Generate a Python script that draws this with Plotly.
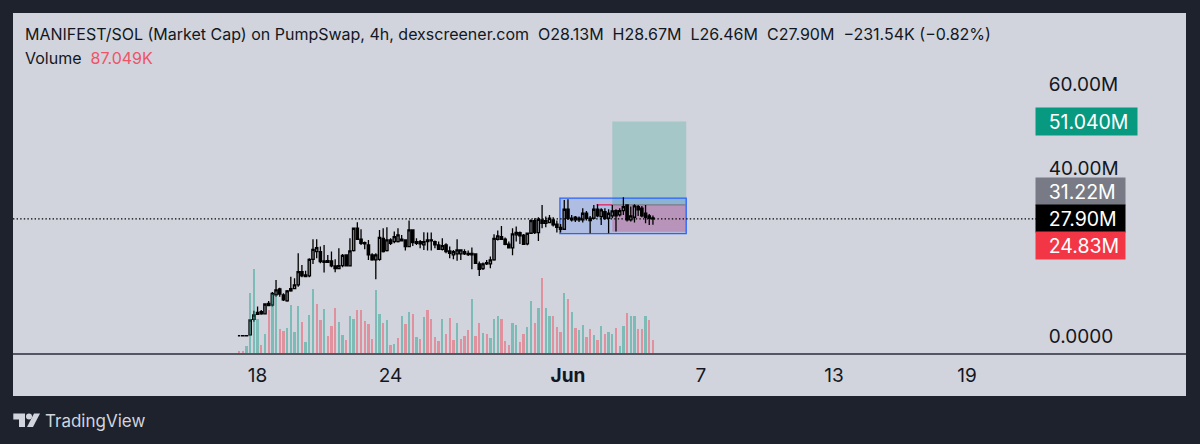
import pandas as pd
import plotly.graph_objects as go

# 4h bars, market cap in millions
bar_start = "2025-05-17 04:00"
opens = [0.05, 0.05, 0.06, 0.24, 3.97, 5.16, 5.80, 5.24, 7.23, 7.38,
         9.77, 11.20, 9.77, 8.34, 10.72, 11.27, 12.15, 15.32, 14.13, 14.29,
         18.26, 20.09, 20.09, 17.55, 17.55, 17.87, 16.67, 16.04, 16.75, 19.29,
         16.67, 20.33, 25.65, 23.03, 21.91, 21.68, 19.29, 18.10, 18.26, 23.26,
         20.33, 22.87, 22.47, 22.47, 23.03, 22.87, 21.28, 25.25, 22.07, 22.47,
         21.68, 22.47, 22.87, 22.47, 21.68, 20.64, 21.68, 20.25, 19.29, 19.53,
         19.53, 20.09, 19.69, 19.29, 19.53, 17.15, 16.04, 17.15, 17.15, 18.10,
         23.03, 23.66, 23.03, 21.84, 20.96, 24.06, 24.61, 23.98, 21.91, 24.46,
         27.47, 24.61, 27.63, 26.84, 27.00, 27.63, 26.60, 25.88, 25.41, 30.17,
         28.03, 27.63, 28.03, 27.63, 29.22, 27.47, 28.03, 30.17, 28.43, 29.62,
         28.03, 28.58, 29.85, 28.82, 29.85, 31.20, 27.63, 28.27, 30.81, 30.41,
         29.22, 28.58, 28.13]
highs = [0.12, 0.12, 0.15, 3.97, 6.03, 6.99, 6.19, 7.78, 8.34, 10.48,
         13.34, 11.51, 10.16, 10.96, 14.13, 13.74, 19.69, 16.91, 15.56, 18.50,
         23.03, 23.03, 21.28, 21.68, 19.29, 20.09, 18.26, 20.88, 19.53, 19.45,
         23.26, 25.81, 27.08, 25.41, 22.47, 22.87, 19.69, 19.69, 25.25, 25.65,
         25.88, 23.26, 24.85, 25.65, 24.06, 22.87, 27.47, 25.41, 23.26, 22.87,
         24.69, 24.61, 24.61, 22.71, 22.47, 23.26, 22.07, 21.28, 20.49, 23.03,
         20.64, 20.64, 20.33, 21.04, 19.69, 17.71, 17.47, 18.10, 18.90, 24.22,
         25.09, 26.20, 23.42, 22.47, 25.65, 26.04, 24.85, 24.30, 24.61, 27.79,
         28.03, 28.27, 31.20, 28.43, 28.82, 28.27, 27.47, 26.68, 32.40, 32.55,
         28.82, 28.58, 28.43, 30.41, 29.78, 28.58, 31.20, 31.36, 30.41, 30.41,
         30.17, 31.20, 30.17, 30.41, 33.03, 31.36, 30.81, 31.36, 31.20, 30.97,
         31.20, 29.06, 28.67]
lows = [0.03, 0.03, 0.03, 0.08, 3.41, 5.00, 5.08, 5.16, 7.15, 6.99,
        9.37, 9.37, 8.34, 8.18, 10.56, 11.20, 11.75, 13.97, 13.97, 13.97,
        17.15, 18.50, 17.31, 15.09, 17.47, 16.36, 15.17, 15.88, 16.36, 16.52,
        16.52, 20.09, 22.87, 21.68, 20.64, 18.10, 17.94, 13.50, 17.94, 19.85,
        20.09, 21.68, 22.07, 22.23, 22.47, 20.33, 21.12, 21.44, 21.68, 20.88,
        20.49, 20.33, 20.33, 20.88, 20.49, 20.33, 19.69, 18.50, 18.26, 17.94,
        18.10, 19.29, 19.06, 15.88, 17.15, 14.29, 15.72, 16.91, 16.12, 17.94,
        22.71, 22.87, 21.60, 20.80, 19.21, 22.47, 21.91, 21.68, 21.60, 24.30,
        24.30, 22.63, 25.65, 25.88, 26.84, 26.04, 24.61, 24.61, 25.25, 27.63,
        27.23, 27.15, 27.15, 27.00, 27.47, 24.46, 27.79, 28.27, 26.44, 27.63,
        24.46, 28.03, 24.85, 28.43, 28.82, 27.23, 27.23, 27.00, 28.58, 28.27,
        26.84, 26.44, 26.46]
closes = [0.05, 0.06, 0.08, 3.81, 5.00, 5.64, 5.24, 7.62, 7.78, 10.16,
          10.96, 10.00, 8.58, 10.72, 11.27, 12.15, 15.32, 14.29, 14.53, 18.26,
          20.64, 21.04, 17.71, 17.87, 17.94, 16.67, 16.04, 16.75, 19.21, 16.67,
          20.25, 25.65, 23.03, 22.07, 22.23, 19.29, 18.10, 19.29, 23.50, 20.09,
          22.87, 22.07, 23.66, 24.06, 22.63, 21.28, 25.25, 22.23, 22.47, 21.91,
          22.47, 22.87, 22.63, 21.68, 20.64, 21.52, 20.09, 19.69, 20.09, 20.49,
          20.49, 19.53, 19.37, 19.69, 17.31, 15.88, 17.15, 17.47, 18.10, 23.26,
          23.82, 23.03, 21.84, 20.96, 24.30, 24.69, 23.82, 21.84, 24.46, 27.47,
          24.61, 27.79, 26.84, 27.47, 28.03, 26.44, 25.88, 25.41, 30.17, 28.03,
          27.63, 28.27, 27.63, 29.22, 28.03, 28.03, 30.17, 28.58, 30.01, 28.03,
          29.22, 29.78, 28.58, 29.85, 30.81, 27.63, 28.58, 30.97, 30.01, 28.58,
          28.27, 28.03, 27.90]
# volume in thousands
volumes = [11, 13, 49, 402, 565, 230, 51, 130, 286, 397,
           386, 163, 145, 170, 319, 141, 315, 208, 74, 257,
           426, 326, 219, 295, 114, 183, 304, 208, 123, 85,
           246, 228, 286, 290, 212, 197, 96, 420, 261, 203,
           219, 56, 63, 100, 246, 192, 275, 264, 107, 92,
           241, 286, 230, 107, 80, 226, 130, 234, 85, 203,
           96, 112, 156, 360, 114, 203, 136, 125, 100, 226,
           246, 230, 80, 56, 203, 190, 74, 130, 174, 346,
           203, 301, 505, 304, 246, 246, 174, 141, 402, 360,
           272, 170, 152, 190, 107, 163, 123, 85, 179, 130,
           138, 130, 170, 45, 179, 270, 246, 246, 163, 159,
           246, 223, 87]
# g = teal bar, d = red bar
vol_dir = list("ddggggdgdg" "gddggggdgg" "gddgdddggd" "ggdddddggd" "gdgdgdgdgd"
               "gddddgdddg" "dddgddgdgg" "gdddggddgg" "dgdggdddgd" "gdggddgdgd"
               "ggdggdggdd" "gdd")

tick_dates = ["2025-05-18", "2025-05-24", "2025-06-01", "2025-06-07", "2025-06-13", "2025-06-19"]
tick_text = ["18", "24", "<b>Jun</b>", "7", "13", "19"]
price_ticks = [0, 40, 60]
price_text = ["0.0000", "40.00M", "60.00M"]

target_price = 51.04
entry_price = 31.22
last_price = 27.90
stop_price = 24.83
box_top = 32.8
box_bottom = 24.36
box_start = "2025-05-31 15:20"
pos_start = "2025-06-03 00:00"
pos_end = "2025-06-06 08:00"
ray_start = "2025-06-02 07:00"

BG = "#d1d4dc"
DARK = "#1e222d"
INK = "#131722"
FONT = "Inter"

times = pd.date_range(bar_start, periods=len(closes), freq="4h")
vol_colors = ["rgba(8,153,129,0.42)" if d == "g" else "rgba(242,54,69,0.42)" for d in vol_dir]

fig = go.Figure()
fig.add_trace(go.Bar(x=times, y=volumes, yaxis="y2", width=9000000, marker_color=vol_colors, marker_line_width=0))
fig.add_trace(go.Candlestick(
    x=times, open=opens, high=highs, low=lows, close=closes,
    increasing=dict(line=dict(color="#000000", width=1.3), fillcolor="#8d8f97"),
    decreasing=dict(line=dict(color="#000000", width=1.3), fillcolor="#000000"),
    whiskerwidth=0,
))


# pixel helpers for the chrome round the chart only
def px(x):
    return (x - 13) / 1173


def py(y):
    return (396 - y) / 383


shapes = [
    dict(type="rect", xref="paper", yref="paper", x0=0, x1=1, y0=0, y1=1, fillcolor=BG, line_width=0, layer="below"),
    dict(type="rect", x0=pos_start, x1=pos_end, y0=entry_price, y1=target_price,
         fillcolor="rgba(8,153,129,0.22)", line_width=0, layer="below"),
    dict(type="rect", x0=pos_start, x1=pos_end, y0=stop_price, y1=entry_price,
         fillcolor="rgba(242,54,69,0.32)", line_width=0, layer="below"),
    dict(type="rect", x0=box_start, x1=pos_end, y0=box_bottom, y1=box_top,
         fillcolor="rgba(41,98,255,0.2)", line=dict(color="#2962ff", width=1.3), layer="below"),
    dict(type="line", x0=pos_start, x1=pos_end, y0=entry_price, y1=entry_price,
         line=dict(color="#787b86", width=1.3), layer="below"),
    dict(type="line", x0=ray_start, x1=pos_start, y0=entry_price, y1=entry_price,
         line=dict(color="#e91e63", width=1.3), layer="below"),
    dict(type="line", xref="x domain", x0=0, x1=1, y0=last_price, y1=last_price,
         line=dict(color="#000000", width=1.2, dash="1.4px,2.2px")),
    dict(type="line", xref="paper", yref="y domain", x0=0, x1=1, y0=0, y1=0,
         line=dict(color="#2a2e39", width=1.5)),
    # TradingView logo
    dict(type="path", xref="paper", yref="paper", fillcolor=BG, line_width=0,
         path=f"M{px(13.3)},{py(413.5)} L{px(25)},{py(413.5)} L{px(25)},{py(427)} L{px(19)},{py(427)} "
              f"L{px(19)},{py(419.5)} L{px(13.3)},{py(419.5)} Z"),
    dict(type="circle", xref="paper", yref="paper", fillcolor=BG, line_width=0,
         x0=px(26), x1=px(32), y0=py(419.5), y1=py(413.5)),
    dict(type="path", xref="paper", yref="paper", fillcolor=BG, line_width=0,
         path=f"M{px(34)},{py(413.5)} L{px(40)},{py(413.5)} L{px(33)},{py(427)} L{px(27)},{py(427)} Z"),
]


def tag(text, price, color, w, shift=0):
    return dict(text=text, xref="x domain", x=1, y=price, yref="y", xanchor="left", yanchor="middle",
                xshift=-1, yshift=shift, width=w, height=27, align="left", showarrow=False,
                bgcolor=color, borderpad=0, font=dict(family=FONT, size=19.5, color="#ffffff"))


header = ("MANIFEST/SOL (Market Cap) on PumpSwap, 4h, dexscreener.com"
          "\u00a0\u00a0O28.13M\u00a0\u00a0H28.67M\u00a0\u00a0L26.46M\u00a0\u00a0C27.90M"
          "\u00a0\u00a0\u2212231.54K (\u22120.82%)")
annotations = [
    dict(text=header, xref="paper", yref="paper", x=px(23), y=py(34), xanchor="left", yanchor="middle",
         showarrow=False, font=dict(family=FONT, size=16, color=INK)),
    dict(text="Volume\u00a0\u00a0<span style='color:#ef5366'>87.049K</span>", xref="paper", yref="paper",
         x=px(23), y=py(58), xanchor="left", yanchor="middle", showarrow=False,
         font=dict(family=FONT, size=16, color=INK)),
    dict(text="TradingView", xref="paper", yref="paper", x=px(43), y=py(421), xanchor="left", yanchor="middle",
         showarrow=False, font=dict(family=FONT, size=17, color=BG)),
    tag("\u00a0\u00a0\u200a51.040M", target_price, "#089981", 101),
    tag("\u00a0\u00a0\u200a31.22M", entry_price, "#787b86", 89, 13),
    tag("\u00a0\u00a0\u200a27.90M", last_price, "#000000", 89),
    tag("\u00a0\u00a0\u200a24.83M", stop_price, "#f23645", 89, -14),
]

fig.update_layout(
    width=1200, height=444, showlegend=False, bargap=0, boxgap=0.1,
    paper_bgcolor=DARK, plot_bgcolor=BG,
    margin=dict(l=13, r=14, t=13, b=48),
    font=dict(family=FONT, size=19, color=INK),
    shapes=shapes, annotations=annotations,
    xaxis=dict(domain=[0, 1023 / 1173], anchor="y", type="date",
               range=["2025-05-06 23:15", "2025-06-22 02:40"],
               rangeslider=dict(visible=False), showgrid=False, zeroline=False,
               tickvals=tick_dates, ticktext=tick_text, ticks="outside", ticklen=4,
               tickcolor="rgba(0,0,0,0)", tickangle=0,
               tickfont=dict(family=FONT, size=19, color=INK)),
    yaxis=dict(domain=[42 / 383, 1], side="right", range=[-4.29, 76.9], showgrid=False, zeroline=False,
               tickvals=price_ticks, ticktext=price_text, ticks="outside", ticklen=8,
               tickcolor="rgba(0,0,0,0)", tickfont=dict(family=FONT, size=19, color=INK)),
    yaxis2=dict(domain=[42 / 383, 1], overlaying="y", range=[-7, 2278], visible=False),
)

fig.write_html("out.html", config=dict(displayModeBar=False),
               post_script="document.body.style.margin='0';document.body.style.background='#1e222d';")
